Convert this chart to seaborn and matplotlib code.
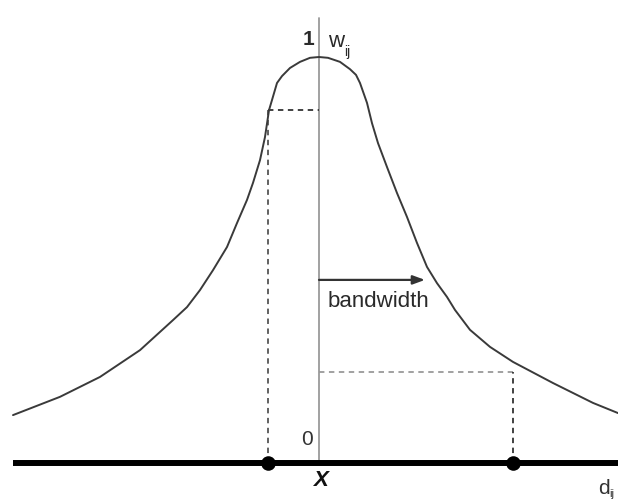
import matplotlib
matplotlib.use("Agg")
import matplotlib.pyplot as plt
import seaborn as sns
import pandas as pd

# Kernel weight curve (distance d, weight w)
curve_d = [-3.06, -2.59, -2.19, -1.79, -1.46, -1.32, -1.19, -1.06, -0.92, -0.82,
           -0.72, -0.66, -0.59, -0.54, -0.50, -0.47, -0.42, -0.37, -0.29, -0.19,
           -0.09, 0.00, 0.09, 0.21, 0.31, 0.37, 0.41, 0.48, 0.53, 0.59, 0.68,
           0.78, 0.88, 0.98, 1.08, 1.18, 1.28, 1.36, 1.51, 1.71, 1.94, 2.34,
           2.74, 2.99]
curve_w = [0.118, 0.163, 0.212, 0.278, 0.352, 0.384, 0.426, 0.475, 0.532, 0.591,
           0.648, 0.690, 0.746, 0.803, 0.869, 0.894, 0.936, 0.953, 0.973, 0.988,
           0.998, 1.000, 0.998, 0.988, 0.970, 0.956, 0.936, 0.887, 0.837, 0.788, 0.729,
           0.665, 0.606, 0.542, 0.483, 0.443, 0.409, 0.377, 0.328, 0.286, 0.249, 0.197,
           0.148, 0.123]

# Observation points on the distance axis
point_d = [-0.51, 1.94]
point_w = [0.0, 0.0]

# Dashed reading guides
near_d, near_w = -0.51, 0.87
far_d, far_w = 1.94, 0.224

bandwidth = 1.06
axis_top = 1.096

df_curve = pd.DataFrame({"d": curve_d, "w": curve_w})
df_pts = pd.DataFrame({"d": point_d, "w": point_w})

sns.set_theme(style="white")
plt.rcParams["font.family"] = ["Liberation Sans", "DejaVu Sans"]

fig = plt.figure(figsize=(6.18, 5.03), dpi=100)
ax = fig.add_axes([0, 0, 1, 1])

# vertical w axis
ax.plot([0, 0], [0, axis_top], color="#9a9a9a", lw=1.3, zorder=1)

# dashed guides
dash = (0, (3, 2.5))
ax.plot([near_d, near_d], [0, near_w], color="#555555", lw=1.3, ls=dash, zorder=1)
ax.plot([near_d, 0], [near_w, near_w], color="#333333", lw=1.3, ls=dash, zorder=1)
ax.plot([0, far_d], [far_w, far_w], color="#9a9a9a", lw=1.3, ls=dash, zorder=1)
ax.plot([far_d, far_d], [0, far_w], color="#333333", lw=1.3, ls=dash, zorder=1)

# curve
sns.lineplot(data=df_curve, x="d", y="w", ax=ax, color="#3a3a3a", lw=1.4,
             sort=False, estimator=None, zorder=2)

# thick baseline
ax.plot([-3.06, 2.99], [0, 0], color="black", lw=4.3, solid_capstyle="butt", zorder=3)

# points
sns.scatterplot(data=df_pts, x="d", y="w", ax=ax, color="black", s=110,
                edgecolor="black", linewidth=0, zorder=4)

# bandwidth arrow
ax.annotate("", xy=(bandwidth, 0.451), xytext=(0, 0.451),
            arrowprops=dict(arrowstyle="-|>,head_length=0.6,head_width=0.22",
                            color="#333333", lw=1.6, shrinkA=0, shrinkB=0), zorder=3)
ax.text(0.085, 0.384, "bandwidth", fontsize=16, color="#2a2a2a", ha="left", va="baseline")

# labels
ax.text(-0.11, 1.042, "1", fontsize=15, color="#2a2a2a", ha="center", va="center",
        fontweight="bold")
ax.text(0.09, 1.025, "w", fontsize=16, color="#2a2a2a", ha="left", va="baseline")
ax.text(0.255, 1.003, "ij", fontsize=10, color="#2a2a2a", ha="left", va="baseline")
ax.text(-0.12, 0.057, "0", fontsize=15, color="#333333", ha="center", va="center")
ax.text(0.015, -0.044, "X", fontsize=16, color="#111111", ha="center", va="center",
        style="italic", fontweight="bold")
ax.text(2.79, -0.076, "d", fontsize=15, color="#333333", ha="left", va="baseline")
ax.text(2.905, -0.083, "ij", fontsize=8, color="#333333", ha="left", va="baseline")

ax.set_xlim(-3.19, 2.99)
ax.set_ylim(-0.0985, 1.1404)
ax.set_axis_off()

fig.savefig("out.png", dpi=100)
